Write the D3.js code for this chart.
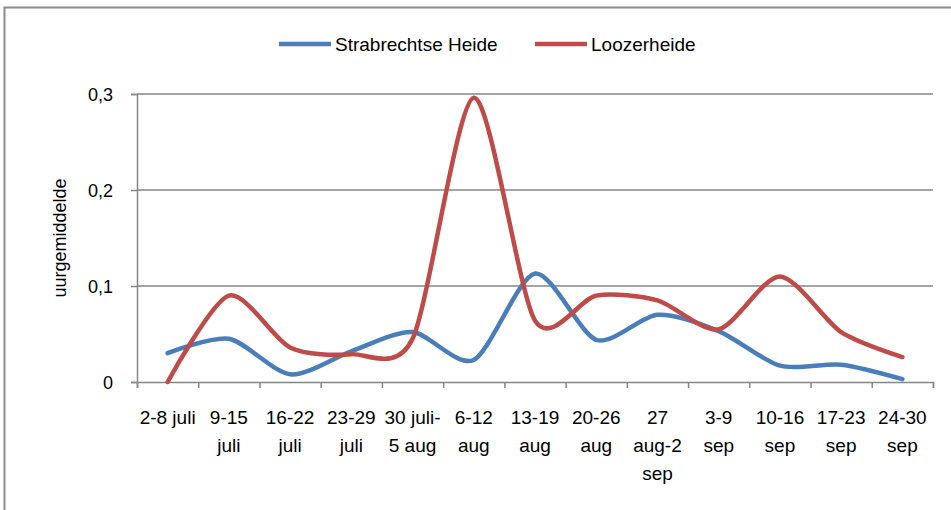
<!DOCTYPE html>
<html>
<head>
<meta charset="utf-8">
<script src="https://cdn.jsdelivr.net/npm/d3@7"></script>
<style>
  body { margin: 0; background: #fff; }
  text { font-family: "Liberation Sans", Arial, sans-serif; fill: #000; }
</style>
</head>
<body>
<div id="chart"></div>
<script>
// data
let weeks = [
  "2-8 juli", "9-15\njuli", "16-22\njuli", "23-29\njuli", "30 juli-\n5 aug",
  "6-12\naug", "13-19\naug", "20-26\naug", "27\naug-2\nsep", "3-9\nsep",
  "10-16\nsep", "17-23\nsep", "24-30\nsep"
];
let strabrechtse = [0.030, 0.045, 0.008, 0.032, 0.052, 0.023, 0.113, 0.044, 0.070, 0.053, 0.017, 0.018, 0.003];
let loozerheide = [0.000, 0.090, 0.036, 0.029, 0.045, 0.296, 0.064, 0.090, 0.085, 0.055, 0.110, 0.052, 0.026];
let yTicks = [0, 0.1, 0.2, 0.3];
let seriesNames = ["Strabrechtse Heide", "Loozerheide"];
let colors = ["#4a7ebb", "#be4b48"];

let svgWidth = 951;
let svgHeight = 510;
let margin = { top: 94, right: 18, bottom: 128, left: 137 };
let width = svgWidth - margin.left - margin.right;
let height = svgHeight - margin.top - margin.bottom;

let svg = d3.select("#chart").append("svg")
  .attr("width", svgWidth)
  .attr("height", svgHeight);

// outer chart border (only top / left visible in the crop)
svg.append("rect")
  .attr("x", 4.5).attr("y", 7.5)
  .attr("width", 1000).attr("height", 600)
  .attr("fill", "none")
  .attr("stroke", "#8c8c8c")
  .attr("stroke-width", 2);

let g = svg.append("g").attr("transform", `translate(${margin.left},${margin.top})`);

let x = d3.scaleBand().domain(weeks).range([0, width]).padding(0);
let xTick = d3.scaleLinear().domain([0, weeks.length]).range([0, width]);
let y = d3.scaleLinear().domain([0, 0.3]).range([height, 0]);

// gridlines
g.append("g")
  .selectAll("line")
  .data(yTicks.filter(d => d > 0))
  .enter()
  .append("line")
  .attr("x1", 0).attr("x2", width)
  .attr("y1", d => y(d)).attr("y2", d => y(d))
  .attr("stroke", "#868686")
  .attr("stroke-width", 1.5);

// y axis
let yAxis = g.append("g")
  .call(d3.axisLeft(y)
    .tickValues(yTicks)
    .tickSize(6)
    .tickPadding(18)
    .tickFormat(d => d === 0 ? "0" : d3.format(".1f")(d).replace(".", ",")));
yAxis.selectAll("text").attr("font-size", "18px").attr("dy", "0.35em");

// x axis with ticks at category boundaries
let xAxis = g.append("g")
  .attr("transform", `translate(0,${height})`)
  .call(d3.axisBottom(xTick)
    .tickValues(d3.range(weeks.length + 1))
    .tickSize(6)
    .tickFormat(""));

svg.selectAll(".domain, .tick line")
  .attr("stroke", "#868686")
  .attr("stroke-width", 1.5);

// multi-line category labels
let labels = g.append("g")
  .selectAll("text")
  .data(weeks)
  .enter()
  .append("text")
  .attr("text-anchor", "middle")
  .attr("font-size", "19px")
  .attr("transform", d => `translate(${x(d) + x.bandwidth() / 2},${height + 42})`);

labels.each(function (d) {
  let parts = d.split("\n");
  d3.select(this).selectAll("tspan")
    .data(parts)
    .enter()
    .append("tspan")
    .attr("x", 0)
    .attr("y", (p, i) => i * 28)
    .text(p => p);
});

// y label
svg.append("text")
  .attr("transform", "translate(66,238) rotate(-90)")
  .attr("text-anchor", "middle")
  .attr("font-size", "18px")
  .text("uurgemiddelde");

// smoothed lines
let line = d3.line()
  .x((d, i) => x(weeks[i]) + x.bandwidth() / 2)
  .y(d => y(d))
  .curve(d3.curveCardinal.tension(0.2));

[strabrechtse, loozerheide].forEach(function (values, i) {
  g.append("path")
    .datum(values)
    .attr("fill", "none")
    .attr("stroke", colors[i])
    .attr("stroke-width", 4.5)
    .attr("stroke-linecap", "round")
    .attr("d", line);
});

// legend
let legendX = [279, 535];
let legend = svg.append("g");
seriesNames.forEach(function (name, i) {
  legend.append("line")
    .attr("x1", legendX[i]).attr("x2", legendX[i] + 52)
    .attr("y1", 44).attr("y2", 44)
    .attr("stroke", colors[i])
    .attr("stroke-width", 4.5);
  legend.append("text")
    .attr("x", legendX[i] + 56)
    .attr("y", 44)
    .attr("dy", "0.35em")
    .attr("font-size", "19px")
    .text(name);
});
</script>
</body>
</html>
